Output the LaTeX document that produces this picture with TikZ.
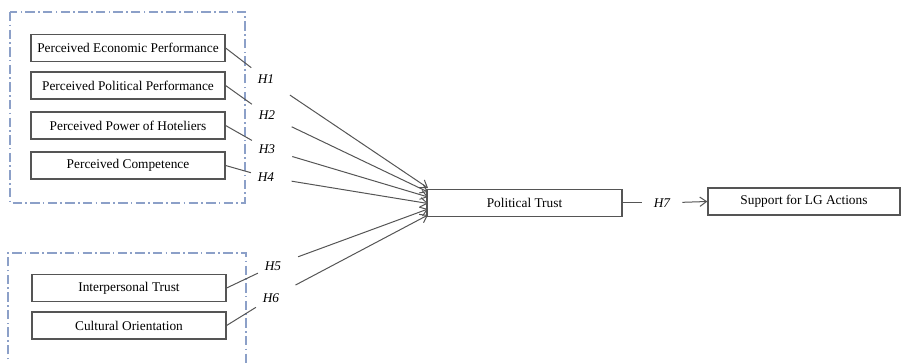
\documentclass[tikz,border=0pt]{standalone}
\usepackage{fontspec}
\setmainfont{Liberation Serif}
\usetikzlibrary{arrows.meta}
\definecolor{boxline}{RGB}{85,85,85}
\definecolor{grpline}{RGB}{140,160,200}

\tikzset{
  factor/.style={draw=boxline, line width=0.9pt, rectangle, minimum width=145.5pt, minimum height=20.25pt, inner sep=0pt, font=\fontsize{10}{12}\selectfont},
  hyp/.style={inner xsep=5pt, inner ysep=5pt, font=\fontsize{10}{12}\selectfont\itshape},
  link/.style={draw=boxline, line width=0.75pt},
  arr/.style={link, -{Straight Barb[length=5pt,width=7pt]}},
  hypline/.style={arr, shorten <=8pt},
  group/.style={draw=grpline, line width=0.9pt, dash pattern=on 7pt off 2.5pt on 1.2pt off 2.5pt},
}

\begin{document}
\begin{tikzpicture}[x=0.75pt,y=0.75pt,yscale=-1,xscale=1]
\useasboundingbox (0,0) rectangle (901,363);

% groups
\draw [group] (10,12) rectangle (245,203);
\draw [group] (8,372) -- (8,253) -- (246,253) -- (246,372);

% factors
\node [factor] (econ) at (128,48) {Perceived Economic Performance};
\node [factor] (polp) at (128,85.5) {Perceived Political Performance};
\node [factor] (powh) at (128,125.5) {Perceived Power of Hoteliers};
\node [factor] (comp) at (128,165.5) {Perceived Competence};
\node [factor] (intr) at (129,288) {Interpersonal Trust};
\node [factor] (cult) at (129,325.5) {Cultural Orientation};
\node [factor, minimum width=146.25pt] (ptrust) at (524.5,203) {Political Trust};
\node [factor, minimum width=144pt] (supp) at (804,201.5) {Support for LG Actions};

% hypotheses
\node [hyp] (h1) at (266,79) {H1};
\node [hyp] (h2) at (267,115) {H2};
\node [hyp] (h3) at (267,149) {H3};
\node [hyp] (h4) at (266,177) {H4};
\node [hyp] (h5) at (273,266) {H5};
\node [hyp] (h6) at (271,298) {H6};
\node [hyp, inner xsep=0pt, minimum width=30pt] (h7) at (662,203) {H7};

% arrow ends on Political Trust
\coordinate (e1) at (428,188);
\coordinate (e2) at (428,192);
\coordinate (e3) at (428,197);
\coordinate (e4) at (428,203.5);
\coordinate (e5) at (428,209);
\coordinate (e6) at (428,215);

\draw [link] (econ.east) -- (h1);
\draw [link] (polp.east) -- (h2);
\draw [link] (powh.east) -- (h3);
\draw [link] (comp.east) -- (h4);
\draw [link] (intr.east) -- (h5);
\draw [link] (cult.east) -- (h6);

\draw [hypline] (h1) -- (e1);
\draw [hypline] (h2) -- (e2);
\draw [hypline] (h3) -- (e3);
\draw [hypline] (h4) -- (e4);
\draw [hypline] (h5) -- (e5);
\draw [hypline] (h6) -- (e6);

\draw [link] (ptrust.east) -- (h7);
\draw [arr] (h7) -- (supp.west);

\end{tikzpicture}
\end{document}
